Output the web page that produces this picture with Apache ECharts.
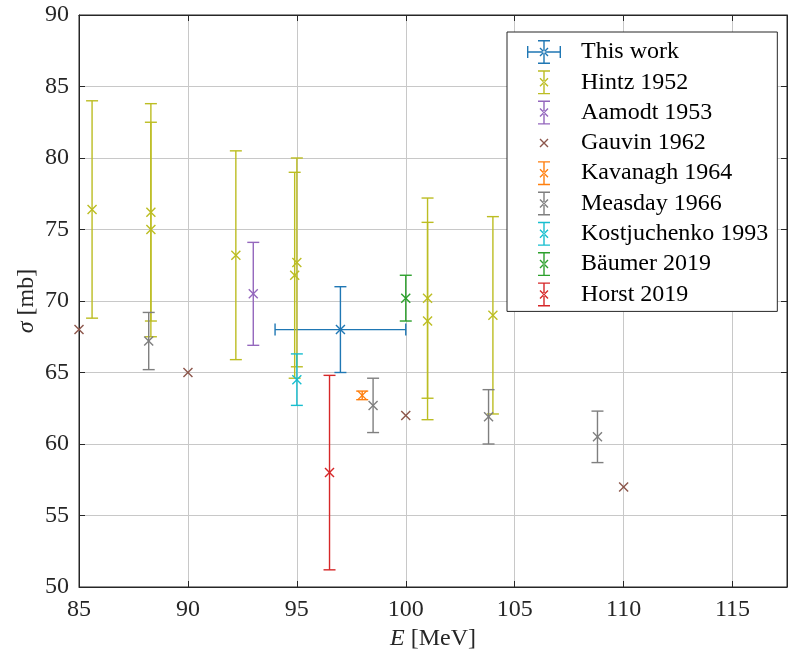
<!DOCTYPE html>
<html>
<head>
<meta charset="utf-8">
<script src="https://cdn.jsdelivr.net/npm/echarts@6/dist/echarts.min.js"></script>
<style>
  html, body { margin: 0; padding: 0; background: #fff; }
  #chart { width: 788px; height: 657px; }
</style>
</head>
<body>
<div id="chart"></div>
<script>
// Total cross section sigma versus photon energy E, several measurements.
// Each measurement: energies [MeV], cross sections [mb], uncertainties [mb].

const thisWorkE = [97.0];
const thisWorkSigma = [68.0];
const thisWorkErrSigma = [3.0];
const thisWorkErrE = [3.0];

const hintzE = [85.6, 88.3, 88.3, 92.2, 94.9, 95.0, 101.0, 101.0, 104.0];
const hintzSigma = [76.4, 76.2, 75.0, 73.2, 71.8, 72.7, 70.2, 68.6, 69.0];
const hintzErr = [7.6, 7.6, 7.5, 7.3, 7.2, 7.3, 7.0, 6.9, 6.9];

const aamodtE = [93.0];
const aamodtSigma = [70.5];
const aamodtErr = [3.6];

const gauvinE = [85.0, 90.0, 100.0, 110.0];
const gauvinSigma = [68.0, 65.0, 62.0, 57.0];

const kavanaghE = [98.0];
const kavanaghSigma = [63.4];
const kavanaghErr = [0.3];

const measdayE = [88.2, 98.5, 103.8, 108.8];
const measdaySigma = [67.2, 62.7, 61.9, 60.5];
const measdayErr = [2.0, 1.9, 1.9, 1.8];

const kostjuchenkoE = [95.0];
const kostjuchenkoSigma = [64.5];
const kostjuchenkoErr = [1.8];

const baumerE = [100.0];
const baumerSigma = [70.2];
const baumerErr = [1.6];

const horstE = [96.5];
const horstSigma = [58.0];
const horstErr = [6.8];

// Axis ranges and tick spacing
const xMin = 85, xMax = 117.5, xStep = 5;
const yMin = 50, yMax = 90, yStep = 5;

const FONT = 'Liberation Serif';

// rows of [E, sigma, dSigma, dE]
function rows(e, s, ds, de) {
  return e.map((v, i) => [v, s[i], ds ? ds[i] : 0, de ? de[i] : 0]);
}

// ---- legend icons (filled paths, 49x24 box, glyph centred at x=17) ----
function rect(x0, y0, x1, y1) {
  return `M${x0} ${y0}L${x1} ${y0}L${x1} ${y1}L${x0} ${y1}Z`;
}
function diag(x1, y1, x2, y2, t) {
  const dx = x2 - x1, dy = y2 - y1, len = Math.hypot(dx, dy);
  const ox = -dy / len * t / 2, oy = dx / len * t / 2;
  return `M${x1 + ox} ${y1 + oy}L${x2 + ox} ${y2 + oy}L${x2 - ox} ${y2 - oy}L${x1 - ox} ${y1 - oy}Z`;
}
const CX = 17, CY = 12, T = 1.4;
const frame = 'M0 0L0.01 0L0.01 0.01Z M48.99 23.99L49 23.99L49 24Z';
const crossIcon = diag(CX - 4, CY - 4, CX + 4, CY + 4, 1.4) + diag(CX - 4, CY + 4, CX + 4, CY - 4, 1.4);
const vbarIcon = rect(CX - T / 2, 0, CX + T / 2, 24) + rect(CX - 6, 0, CX + 6, T) + rect(CX - 6, 24 - T, CX + 6, 24);
const hbarIcon = rect(0.5, CY - T / 2, 33.5, CY + T / 2) + rect(0, CY - 6, T, CY + 6) + rect(34 - T, CY - 6, 34, CY + 6);

const iconXY = 'path://' + frame + vbarIcon + hbarIcon + crossIcon;
const iconY = 'path://' + frame + vbarIcon + crossIcon;
const iconX = 'path://' + frame + crossIcon;

const measurements = [
  { name: 'This work', color: '#1f77b4', data: rows(thisWorkE, thisWorkSigma, thisWorkErrSigma, thisWorkErrE), icon: iconXY },
  { name: 'Hintz 1952', color: '#bcbd22', data: rows(hintzE, hintzSigma, hintzErr), icon: iconY },
  { name: 'Aamodt 1953', color: '#9467bd', data: rows(aamodtE, aamodtSigma, aamodtErr), icon: iconY },
  { name: 'Gauvin 1962', color: '#8c564b', data: rows(gauvinE, gauvinSigma), icon: iconX },
  { name: 'Kavanagh 1964', color: '#ff7f0e', data: rows(kavanaghE, kavanaghSigma, kavanaghErr), icon: iconY },
  { name: 'Measday 1966', color: '#7f7f7f', data: rows(measdayE, measdaySigma, measdayErr), icon: iconY },
  { name: 'Kostjuchenko 1993', color: '#17becf', data: rows(kostjuchenkoE, kostjuchenkoSigma, kostjuchenkoErr), icon: iconY },
  { name: 'B\u00e4umer 2019', color: '#2ca02c', data: rows(baumerE, baumerSigma, baumerErr), icon: iconY },
  { name: 'Horst 2019', color: '#d62728', data: rows(horstE, horstSigma, horstErr), icon: iconY }
];

// Error bars with caps plus an "x" marker at the central value
function renderErrorBar(params, api) {
  const e = api.value(0), s = api.value(1), ds = api.value(2), de = api.value(3);
  const color = api.visual('color');
  const style = { stroke: color, lineWidth: 1.4, fill: null };
  const cap = 6, mk = 4.5;
  const seg = (x1, y1, x2, y2) => ({ type: 'line', shape: { x1, y1, x2, y2 }, style });
  const c = api.coord([e, s]);
  const out = [];
  if (ds > 0) {
    const top = api.coord([e, s + ds]), bot = api.coord([e, s - ds]);
    out.push(seg(top[0], top[1], bot[0], bot[1]));
    out.push(seg(top[0] - cap, top[1], top[0] + cap, top[1]));
    out.push(seg(bot[0] - cap, bot[1], bot[0] + cap, bot[1]));
  }
  if (de > 0) {
    const lo = api.coord([e - de, s]), hi = api.coord([e + de, s]);
    out.push(seg(lo[0], lo[1], hi[0], hi[1]));
    out.push(seg(lo[0], lo[1] - cap, lo[0], lo[1] + cap));
    out.push(seg(hi[0], hi[1] - cap, hi[0], hi[1] + cap));
  }
  out.push(seg(c[0] - mk, c[1] - mk, c[0] + mk, c[1] + mk));
  out.push(seg(c[0] - mk, c[1] + mk, c[0] + mk, c[1] - mk));
  return { type: 'group', children: out };
}

const axisColor = '#262626';
const tickText = { fontFamily: FONT, fontSize: 24, color: axisColor };

const chart = echarts.init(document.getElementById('chart'), null, { renderer: 'canvas' });

chart.setOption({
  animation: false,
  backgroundColor: '#fff',
  grid: {
    left: 79, right: 1, top: 15, bottom: 70,
    show: true, borderColor: axisColor, borderWidth: 1, backgroundColor: 'transparent'
  },
  xAxis: [
    {
      type: 'value', min: xMin, max: xMax, interval: xStep,
      name: '{i|E} [MeV]', nameLocation: 'middle', nameGap: 37,
      nameTextStyle: {
        fontFamily: FONT, fontSize: 24, color: axisColor,
        rich: { i: { fontFamily: FONT, fontSize: 24, fontStyle: 'italic', color: axisColor } }
      },
      axisLine: { show: true, onZero: false, lineStyle: { color: axisColor, width: 1 } },
      axisTick: { show: true, inside: true, length: 6, lineStyle: { color: axisColor } },
      axisLabel: { ...tickText, margin: 11, showMaxLabel: false },
      splitLine: { show: true, lineStyle: { color: '#c8c8c8', width: 1 } }
    },
    {
      type: 'value', position: 'top', min: xMin, max: xMax, interval: xStep,
      axisLine: { show: true, onZero: false, lineStyle: { color: axisColor, width: 1 } },
      axisTick: { show: true, inside: true, length: 6, lineStyle: { color: axisColor } },
      axisLabel: { show: false },
      splitLine: { show: false }
    }
  ],
  yAxis: [
    {
      type: 'value', min: yMin, max: yMax, interval: yStep,
      name: '{i|\u03c3} [mb]', nameLocation: 'middle', nameGap: 40,
      nameMoveOverlap: false,
      nameTextStyle: {
        fontFamily: FONT, fontSize: 24, color: axisColor,
        rich: { i: { fontFamily: FONT, fontSize: 24, fontStyle: 'italic', color: axisColor } }
      },
      axisLine: { show: true, onZero: false, lineStyle: { color: axisColor, width: 1 } },
      axisTick: { show: true, inside: true, length: 6, lineStyle: { color: axisColor } },
      axisLabel: { ...tickText, margin: 10 },
      splitLine: { show: true, lineStyle: { color: '#c8c8c8', width: 1 } }
    },
    {
      type: 'value', position: 'right', min: yMin, max: yMax, interval: yStep,
      axisLine: { show: true, onZero: false, lineStyle: { color: axisColor, width: 1 } },
      axisTick: { show: true, inside: true, length: 6, lineStyle: { color: axisColor } },
      axisLabel: { show: false },
      splitLine: { show: false }
    }
  ],
  legend: {
    orient: 'vertical',
    left: 507, top: 32,
    backgroundColor: '#fff',
    borderColor: axisColor, borderWidth: 1,
    padding: [8, 9, 5, 20],
    itemWidth: 49, itemHeight: 24, itemGap: 6.3,
    selectedMode: false,
    textStyle: { fontFamily: FONT, fontSize: 24, color: '#000', lineHeight: 24 },
    data: measurements.map(m => ({ name: m.name, icon: m.icon }))
  },
  series: measurements.map(m => ({
    type: 'custom',
    name: m.name,
    xAxisIndex: 0, yAxisIndex: 0,
    clip: false,
    itemStyle: { color: m.color },
    encode: { x: 0, y: 1 },
    data: m.data,
    renderItem: renderErrorBar
  }))
});
</script>
</body>
</html>
